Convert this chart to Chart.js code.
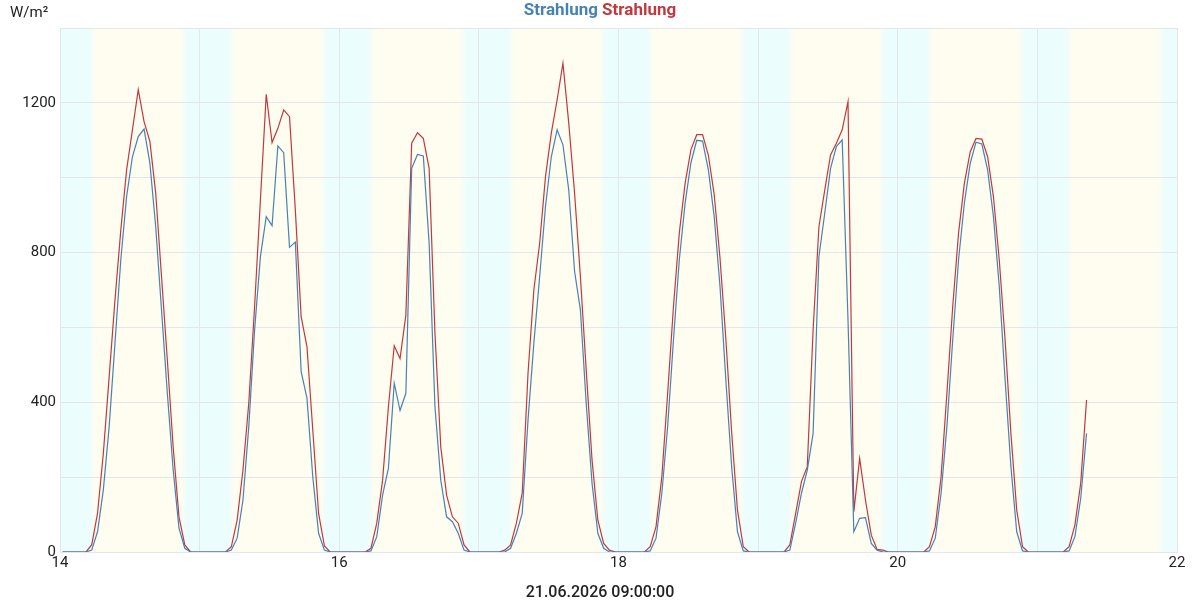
<!DOCTYPE html>
<html>
<head>
<meta charset="utf-8">
<script src="https://cdn.jsdelivr.net/npm/chart.js@4.4.1/dist/chart.umd.min.js"></script>
<style>
  html, body { margin: 0; background: #fff; }
</style>
</head>
<body>
<canvas id="chart" width="1200" height="600"></canvas>
<script>
// hourly readings, one array per day (index = hour of day)
const redDays = [
  [0, 0, 0, 0, 0, 19, 103, 264, 468, 673, 860, 1021, 1128, 1235, 1150, 1097, 959, 736, 513, 281, 94, 19, 0, 0],
  [0, 0, 0, 0, 0, 14, 85, 219, 398, 656, 941, 1223, 1094, 1132, 1181, 1163, 914, 629, 549, 326, 103, 16, 0, 0],
  [0, 0, 0, 0, 0, 10, 77, 192, 388, 551, 517, 633, 1092, 1120, 1105, 1025, 585, 281, 152, 94, 77, 19, 0, 0],
  [0, 0, 0, 0, 5, 19, 77, 157, 478, 700, 825, 1003, 1119, 1208, 1306, 1146, 959, 736, 486, 246, 85, 23, 5, 0],
  [0, 0, 0, 0, 0, 14, 68, 201, 424, 656, 852, 985, 1075, 1115, 1115, 1060, 955, 785, 570, 320, 112, 14, 0, 0],
  [0, 0, 0, 0, 0, 19, 103, 188, 228, 593, 869, 967, 1061, 1092, 1128, 1203, 108, 250, 139, 45, 7, 5, 0, 0],
  [0, 0, 0, 0, 0, 14, 68, 201, 424, 656, 852, 985, 1069, 1105, 1103, 1056, 949, 780, 567, 317, 112, 14, 0, 0],
  [0, 0, 0, 0, 0, 14, 72, 184, 406]
];
const blueDays = [
  [0, 0, 0, 0, 0, 5, 54, 166, 335, 558, 780, 950, 1056, 1110, 1130, 1039, 869, 647, 424, 220, 64, 10, 0, 0],
  [0, 0, 0, 0, 0, 5, 37, 139, 335, 593, 789, 896, 872, 1085, 1067, 814, 828, 482, 411, 201, 50, 5, 0, 0],
  [0, 0, 0, 0, 0, 3, 41, 152, 224, 451, 378, 424, 1025, 1062, 1058, 825, 388, 192, 94, 81, 50, 5, 0, 0],
  [0, 0, 0, 0, 0, 10, 50, 103, 353, 558, 736, 923, 1056, 1128, 1088, 967, 750, 647, 397, 184, 50, 10, 0, 0],
  [0, 0, 0, 0, 0, 3, 37, 157, 335, 567, 780, 932, 1040, 1100, 1098, 1021, 896, 709, 460, 228, 54, 3, 0, 0],
  [0, 0, 0, 0, 0, 5, 77, 157, 219, 317, 789, 905, 1025, 1083, 1101, 620, 54, 90, 92, 23, 5, 0, 0, 0],
  [0, 0, 0, 0, 0, 3, 37, 157, 335, 567, 780, 932, 1038, 1095, 1090, 1021, 896, 709, 460, 228, 54, 3, 0, 0],
  [0, 0, 0, 0, 0, 3, 41, 143, 317]
];
const firstDay = 14;
const hourOffset = 0.45;   // readings sit a little after the full hour
const dayLabels = [14, 16, 18, 20, 22];
const sunriseHour = 5.5;
const sunsetHour = 21.3;

const seriesTitles = ["Strahlung", "Strahlung"];
const unitLabel = "W/m²";
const timeLabel = "21.06.2026 09:00:00";

const BLUE = "#4682b4";
const RED = "#c0393f";
const NIGHT = "#ebfdfd";
const DAYLIGHT = "#fffdf0";

function toPoints(days) {
  const pts = [];
  days.flat().forEach((v, i) => {
    pts.push({ x: firstDay + (i + hourOffset) / 24, y: v });
  });
  return pts;
}

// night / day shading behind the grid
const daylightBands = {
  id: "daylightBands",
  beforeDraw(chart) {
    const { ctx, chartArea: a, scales: { x } } = chart;
    const g = ctx.createLinearGradient(a.left, 0, a.right, 0);
    const span = x.max - x.min;
    const stop = (v, c) => {
      const f = (v - x.min) / span;
      if (f >= 0 && f <= 1) g.addColorStop(f, c);
    };
    g.addColorStop(0, NIGHT);
    for (let d = x.min; d < x.max; d++) {
      stop(d + (sunriseHour - 0.6) / 24, NIGHT);
      stop(d + (sunriseHour + 0.6) / 24, DAYLIGHT);
      stop(d + (sunsetHour - 0.6) / 24, DAYLIGHT);
      stop(d + (sunsetHour + 0.6) / 24, NIGHT);
    }
    g.addColorStop(1, NIGHT);
    ctx.save();
    ctx.fillStyle = g;
    ctx.fillRect(a.left, a.top, a.right - a.left, a.bottom - a.top);
    ctx.restore();
  }
};

const textLabels = {
  id: "textLabels",
  afterDraw(chart) {
    const { ctx } = chart;
    ctx.save();
    ctx.textBaseline = "middle";
    ctx.font = "bold 17px Roboto";
    const w1 = ctx.measureText(seriesTitles[0]).width;
    const gap = ctx.measureText(" ").width;
    const w2 = ctx.measureText(seriesTitles[1]).width;
    let sx = 600 - (w1 + gap + w2) / 2;
    ctx.textAlign = "left";
    ctx.fillStyle = BLUE;
    ctx.fillText(seriesTitles[0], sx, 11);
    ctx.fillStyle = RED;
    ctx.fillText(seriesTitles[1], sx + w1 + gap, 11);

    ctx.font = "15px Roboto";
    ctx.fillStyle = "#222";
    ctx.fillText(unitLabel, 10, 13);

    ctx.font = "500 16px Roboto";
    ctx.textAlign = "center";
    ctx.fillText(timeLabel, 600, 593);
    ctx.restore();
  }
};

new Chart(document.getElementById("chart"), {
  type: "line",
  data: {
    datasets: [
      {
        label: seriesTitles[0],
        data: toPoints(blueDays),
        borderColor: BLUE,
        borderWidth: 1.2,
        pointRadius: 0,
        tension: 0
      },
      {
        label: seriesTitles[1],
        data: toPoints(redDays),
        borderColor: RED,
        borderWidth: 1.2,
        pointRadius: 0,
        tension: 0
      }
    ]
  },
  options: {
    responsive: false,
    animation: false,
    layout: { padding: { top: 28, right: 23, left: 0, bottom: 0 } },
    plugins: {
      legend: { display: false },
      tooltip: { enabled: false }
    },
    scales: {
      x: {
        type: "linear",
        min: 14,
        max: 22,
        afterFit: (s) => { s.height = 48; },
        ticks: {
          stepSize: 1,
          autoSkip: false,
          maxRotation: 0,
          padding: 2,
          color: "#222",
          font: { family: "Roboto", size: 15 },
          callback: (v) => (dayLabels.includes(v) ? String(v) : "")
        },
        grid: { color: "#e4e6ea", drawTicks: false },
        border: { color: "#e4e6ea" }
      },
      y: {
        min: 0,
        max: 1400,
        afterFit: (s) => { s.width = 60; },
        ticks: {
          stepSize: 200,
          padding: 4,
          color: "#222",
          font: { family: "Roboto", size: 15 },
          callback: (v) => (v % 400 === 0 ? String(v) : "")
        },
        grid: { color: "#e4e6ea", drawTicks: false },
        border: { color: "#e4e6ea" }
      }
    }
  },
  plugins: [daylightBands, textLabels]
});
</script>
</body>
</html>
